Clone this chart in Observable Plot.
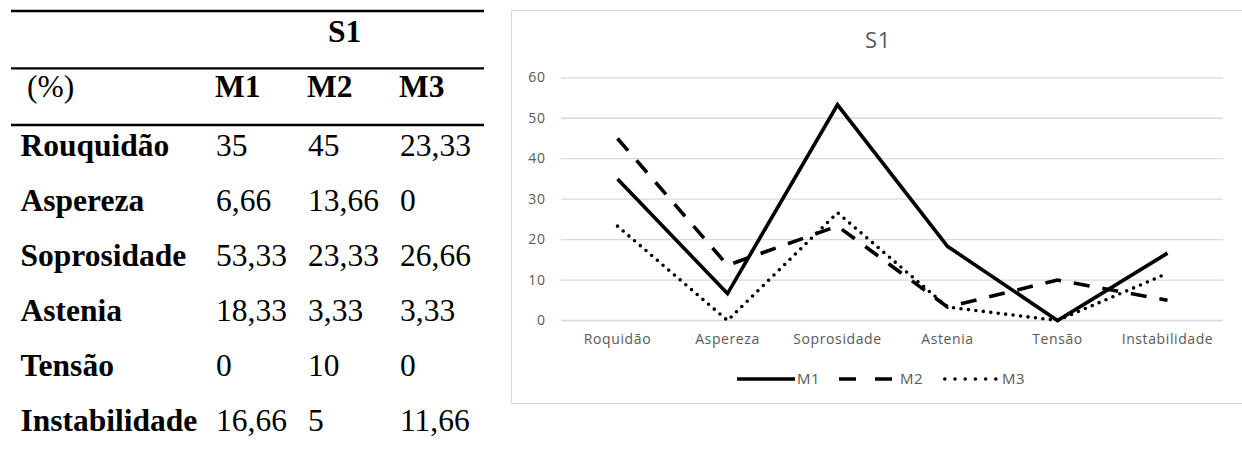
<!DOCTYPE html>
<html>
<head>
<meta charset="utf-8">
<script src="https://cdn.jsdelivr.net/npm/d3@7"></script>
<script src="https://cdn.jsdelivr.net/npm/@observablehq/plot@0.6"></script>
<style>
  html, body { margin: 0; padding: 0; background: #fff; overflow: hidden; }
  #page { position: relative; width: 1242px; height: 450px; overflow: hidden; background: #fff; }
  #table { position: absolute; left: 0; top: 0; }
  #table text { font-family: "Liberation Serif", "Times New Roman", serif; font-size: 31.5px; fill: #000; }
  #chartbox { position: absolute; left: 511px; top: 10px; width: 780px; height: 394px; border: 1.3px solid #d9d9d9; box-sizing: border-box; }
  #title { position: absolute; left: 511px; top: 24px; width: 734px; text-align: center;
           font-family: "Open Sans", sans-serif; font-size: 22px; color: #595959; letter-spacing: 0.8px; line-height: normal; }
  #plot { position: absolute; left: 511px; top: 60px; }
  #plot svg text { font-size: 14px; }
  .leg { position: absolute; font-family: "Open Sans", sans-serif; font-size: 15px; color: #595959; letter-spacing: 0.4px; line-height: 1; }
  .legsw { position: absolute; }
</style>
</head>
<body>
<div id="page">
  <svg id="table" width="500" height="450"></svg>
  <div id="chartbox"></div>
  <div id="title">S1</div>
  <div id="plot"></div>
</div>
<script>
// ---- data ----
const groupTitle = "S1";
const unitLabel = "(%)";
const seriesNames = ["M1", "M2", "M3"];
const tableLabels = ["Rouquidão", "Aspereza", "Soprosidade", "Astenia", "Tensão", "Instabilidade"];
const categories = ["Roquidão", "Aspereza", "Soprosidade", "Astenia", "Tensão", "Instabilidade"];
const m1 = [35, 6.66, 53.33, 18.33, 0, 16.66];
const m2 = [45, 13.66, 23.33, 3.33, 10, 5];
const m3 = [23.33, 0, 26.66, 3.33, 0, 11.66];
const yTicks = [0, 10, 20, 30, 40, 50, 60];

const seriesValues = [m1, m2, m3];
const fmt = v => String(v).replace(".", ",");

// ---- table (left) ----
const tsvg = d3.select("#table");
const ruleY = [11, 68.3, 125];
ruleY.forEach(y => tsvg.append("line").attr("x1", 11).attr("x2", 484).attr("y1", y).attr("y2", y)
  .attr("stroke", "#000").attr("stroke-width", 2.3));
const colX = [215, 307, 399];
tsvg.append("text").attr("x", 328).attr("y", 41.7).attr("font-weight", "bold").text(groupTitle);
tsvg.append("text").attr("x", 27).attr("y", 96.7).text(unitLabel);
seriesNames.forEach((s, j) => tsvg.append("text").attr("x", colX[j]).attr("y", 96.7).attr("font-weight", "bold").text(s));
tableLabels.forEach((lab, i) => {
  const y = 155.8 + i * 55;
  tsvg.append("text").attr("x", 20.5).attr("y", y).attr("font-weight", "bold").text(lab);
  seriesValues.forEach((vals, j) => tsvg.append("text").attr("x", colX[j] + 1).attr("y", y).text(fmt(vals[i])));
});

// ---- chart (right) ----
const rows = seriesNames.map((s, j) => categories.map((c, i) => ({series: s, cat: c, value: seriesValues[j][i]})));
const styles = [
  {strokeDasharray: null, strokeLinecap: "butt"},
  {strokeDasharray: "16,13", strokeLinecap: "butt"},
  {strokeDasharray: "0,7.5", strokeLinecap: "round"}
];
const chart = Plot.plot({
  width: 731,
  height: 300,
  marginLeft: 50,
  marginRight: 19,
  marginTop: 17.3,
  marginBottom: 40,
  x: {type: "point", domain: categories, padding: 0.5},
  y: {domain: [0, 60]},
  style: {fontFamily: "Open Sans, sans-serif", fontSize: "14px", color: "#595959", background: "transparent", letterSpacing: "0.6px"},
  marks: [
    Plot.gridY(yTicks, {stroke: "#d9d9d9", strokeOpacity: 1, strokeWidth: 1.3}),
    Plot.axisY(yTicks, {tickSize: 0, tickPadding: 16, fill: "#595959", label: null}),
    Plot.axisX({tickSize: 0, tickPadding: 14, fill: "#595959", label: null}),
    ...rows.map((r, j) => Plot.line(r, {
      x: "cat", y: "value", stroke: "#000", strokeWidth: 3.6,
      strokeDasharray: styles[j].strokeDasharray, strokeLinecap: styles[j].strokeLinecap,
      strokeLinejoin: "miter", strokeMiterlimit: 4
    }))
  ]
});
document.getElementById("plot").appendChild(chart);

// ---- legend ----
const page = document.getElementById("page");
const legItems = [
  {x: 737, w: 58, dash: null, cap: "butt", tx: 797},
  {x: 839, w: 53, dash: "17,19", cap: "butt", tx: 900},
  {x: 943, w: 55, dash: "0,10.2", cap: "round", tx: 1002}
];
const legY = 378.5;
seriesNames.forEach((s, j) => {
  const it = legItems[j];
  const sw = d3.create("svg").attr("class", "legsw").attr("width", it.w).attr("height", 8)
    .style("left", it.x + "px").style("top", (legY - 4) + "px");
  const pad = it.cap === "round" ? 1.8 : 0;
  sw.append("line").attr("x1", pad).attr("x2", it.w - pad).attr("y1", 4).attr("y2", 4)
    .attr("stroke", "#000").attr("stroke-width", 3.6)
    .attr("stroke-dasharray", it.dash).attr("stroke-linecap", it.cap);
  page.appendChild(sw.node());
  const t = document.createElement("div");
  t.className = "leg";
  t.textContent = s;
  t.style.left = it.tx + "px";
  t.style.top = (legY - 8) + "px";
  page.appendChild(t);
});
</script>
</body>
</html>
